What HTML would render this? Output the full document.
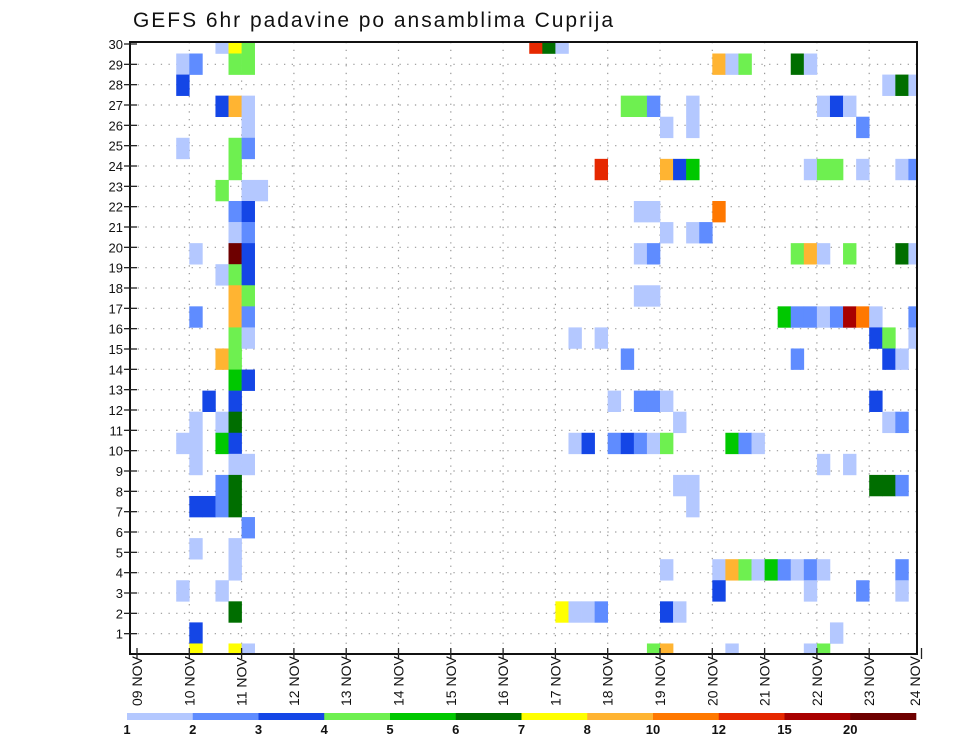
<!DOCTYPE html>
<html><head><meta charset="utf-8"><title>GEFS 6hr padavine po ansamblima Cuprija</title>
<style>
html,body{margin:0;padding:0;background:#fff;}
svg{display:block;font-family:"Liberation Sans",sans-serif;}
</style></head>
<body>
<svg id="chart" width="960" height="742" viewBox="0 0 960 742" xmlns="http://www.w3.org/2000/svg">
<text x="133" y="27" font-size="21" fill="#111" textLength="480">GEFS 6hr padavine po ansamblima Cuprija</text>
<g id="grid"></g>
<g id="cells"></g>
<g id="axes"></g>
<g id="colorbar"></g>
</svg>
<script>
// ---- data ----
const dayLabels = ["09 NOV","10 NOV","11 NOV","12 NOV","13 NOV","14 NOV","15 NOV","16 NOV","17 NOV","18 NOV","19 NOV","20 NOV","21 NOV","22 NOV","23 NOV","24 NOV"];
const memberTicks = [1,2,3,4,5,6,7,8,9,10,11,12,13,14,15,16,17,18,19,20,21,22,23,24,25,26,27,28,29,30];
const levelLabels = ["1","2","3","4","5","6","7","8","10","12","15","20"];
const levelColors = ["#b4c8ff","#5f8cff","#1446e6","#6ef050","#00c800","#006e00","#ffff00","#ffb432","#ff7800","#e62800","#a80000","#6e0000"];
// cells: 6-hour step index (from 09 NOV 00z), ensemble band index (0 = bottom), colour class (1..12)
const cellStep = [
6,7,8, 3,4,7,8, 3, 6,7,8, 8, 3,7,8, 7, 6,8,9, 7,8, 7,8, 4,7,8, 6,7,8, 7,8, 4,7,8, 7,8, 6,7, 7,8, 5,7, 4,6,7, 3,4,6,7, 4,7,8, 6,7, 4,5,6,7, 8, 4,7, 7, 3,6, 7, 4, 4,7,8,
30,31,32, 44,45,46,50,51, 57,58,59, 37,38,39,42,52,53,54, 40,42,55, 35,40,41,42,51,52,53,55,58,59, 38,39,44, 40,42,43, 38,39,50,51,52,54,58,59, 38,39,
49,50,51,52,53,54,55,56,59, 33,35,56,57,59, 37,50,57,58, 36,38,39,40,56, 41,57,58, 33,34,36,37,38,39,40,45,46,47, 52,54, 41,42,56,57,58, 42,
40,44,45,46,47,48,49,50,51,52,58, 44,51,55,58, 32,33,34,35,40,41, 53, 39,40,45,51,52];
const cellMember = [
29,29,29, 28,28,28,28, 27, 26,26,26, 25, 24,24,24, 23, 22,22,22, 21,21, 20,20, 19,19,19, 18,18,18, 17,17, 16,16,16, 15,15, 14,14, 13,13, 12,12, 11,11,11, 10,10,10,10, 9,9,9, 8,8, 7,7,7,7, 6, 5,5, 4, 3,3, 2, 1, 0,0,0,
29,29,29, 28,28,28,28,28, 27,27,27, 26,26,26,26,26,26,26, 25,25,25, 23,23,23,23,23,23,23,23,23,23, 21,21,21, 20,20,20, 19,19,19,19,19,19,19,19, 17,17,
16,16,16,16,16,16,16,16,16, 15,15,15,15,15, 14,14,14,14, 12,12,12,12,12, 11,11,11, 10,10,10,10,10,10,10,10,10,10, 9,9, 8,8,8,8,8, 7,
4,4,4,4,4,4,4,4,4,4,4, 3,3,3,3, 2,2,2,2,2,2, 1, 0,0,0,0,0];
const cellLevel = [
1,7,4, 1,2,4,4, 3, 3,8,1, 1, 1,4,2, 4, 4,1,1, 2,3, 1,2, 1,12,3, 1,4,3, 8,4, 2,8,2, 4,1, 8,4, 5,3, 3,3, 1,1,6, 1,1,5,3, 1,1,1, 2,6, 3,3,2,6, 2, 1,1, 1, 1,1, 6, 3, 7,7,1,
10,6,1, 8,1,4,6,1, 1,6,1, 4,4,2,1,1,3,1, 1,1,2, 10,8,3,5,1,4,4,1,1,2, 1,1,9, 1,1,2, 1,2,4,8,1,4,6,1, 1,1,
5,2,2,1,2,11,9,1,2, 1,1,3,4,1, 2,2,3,1, 1,2,2,1,3, 1,1,2, 1,3,2,3,2,1,4,5,2,1, 1,1, 1,1,6,6,2, 1,
1,1,8,4,1,5,2,1,2,1,2, 3,1,2,1, 7,1,1,2,3,1, 1, 4,8,1,1,4];

// ---- geometry ----
const NS="http://www.w3.org/2000/svg";
const L=130, R=917, T=42, B=654;
const X0=137, DAY=52.3, STEP=DAY/4;
const BAND=21.07;
const xDay = d => X0 + d*DAY;
const xStep = s => X0 + s*STEP;
const yBand = m => B - m*BAND;          // centre of a band
const yTick = k => B - k*(B-44)/30;    // member tick position
function mk(tag, attrs, parent){const e=document.createElementNS(NS,tag);for(const k in attrs)e.setAttribute(k,attrs[k]);parent.appendChild(e);return e;}

const grid=document.getElementById('grid');
for(let k=1;k<30;k++){
  const ln=mk('line',{x1:L,x2:R,y1:yTick(k),y2:yTick(k),stroke:'#999','stroke-width':1.2,'stroke-dasharray':'1.3 6.4'},grid);
  
  
}
for(let d=1;d<dayLabels.length-1;d++){
  const ln=mk('line',{x1:xDay(d),x2:xDay(d),y1:T,y2:B,stroke:'#999','stroke-width':1.2,'stroke-dasharray':'1.3 6.4'},grid);
  
  
}

// cells
const cells=document.getElementById('cells');
mk('clipPath',{id:'plotclip'},cells);
mk('rect',{x:L,y:T,width:R-L,height:B-T},document.getElementById('plotclip'));
cells.setAttribute('clip-path','url(#plotclip)');
for(let i=0;i<cellStep.length;i++){
  const x=xStep(cellStep[i]), y=yBand(cellMember[i])-BAND/2;
  const r=mk('rect',{x:x.toFixed(2),y:y.toFixed(2),width:(STEP+0.3).toFixed(2),height:(BAND+0.3).toFixed(2),fill:levelColors[cellLevel[i]-1]},cells);
  
  
}

// axes
const axes=document.getElementById('axes');
const frame=mk('rect',{x:L,y:T,width:R-L,height:B-T,fill:'none',stroke:'#111','stroke-width':2},axes);


memberTicks.forEach(k=>{
  const y=yTick(k);
  const t=mk('line',{x1:L-6,x2:L+7,y1:y,y2:y,stroke:'#222','stroke-width':1.3},axes);
  
  
  const lb=mk('text',{x:L-7,y:y+5,'font-size':13,'text-anchor':'end',fill:'#111'},axes);
  lb.textContent=String(k);
  
  
});
dayLabels.forEach((lab,d)=>{
  const x=xDay(d);
  const t=mk('line',{x1:x,x2:x,y1:B-6,y2:B+5,stroke:'#222','stroke-width':1.3},axes);
  
  
  const tx=Math.min(x,915)+5;
  const lb=mk('text',{x:0,y:0,'font-size':14,fill:'#111',transform:`translate(${tx},706) rotate(-90)`},axes);
  lb.textContent=lab;
  
  
});

// colorbar
const cb=document.getElementById('colorbar');
const CB0=127, CB1=916, CBW=(CB1-CB0)/levelColors.length;
levelColors.forEach((c,i)=>{
  const r=mk('rect',{x:(CB0+i*CBW).toFixed(2),y:713,width:(CBW+0.3).toFixed(2),height:7,fill:c},cb);
  
  
});
levelLabels.forEach((lab,i)=>{
  const t=mk('text',{x:(CB0+i*CBW).toFixed(2),y:734,'font-size':13,'font-weight':'bold','text-anchor':'middle',fill:'#111'},cb);
  t.textContent=lab;
  
  
});
</script>
</body></html>
